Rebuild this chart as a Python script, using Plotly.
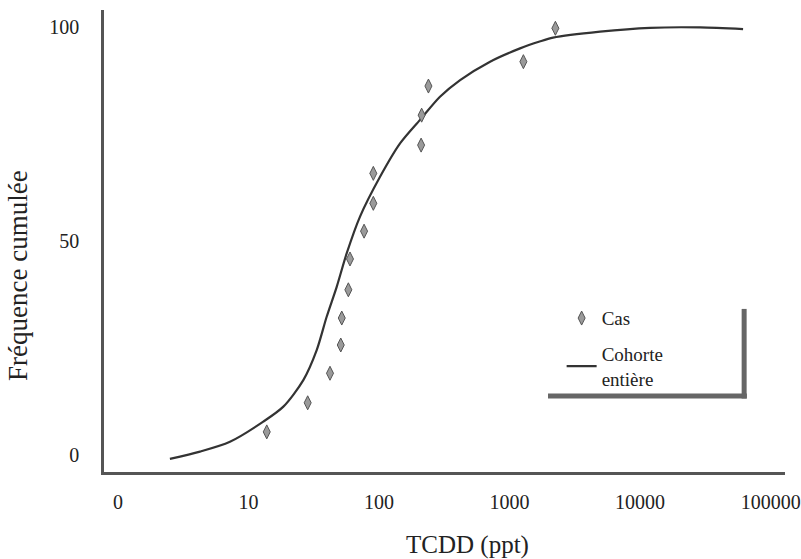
import plotly.graph_objects as go

# Cases (Cas): TCDD (ppt) and cumulative frequency (%)
cas_tcdd = [13.8, 28.4, 42.1, 50.9, 51.8, 58.2, 59.9, 76.8, 90.4, 90.4, 210, 212, 239, 1276, 2244]
cas_freq = [5.4, 12.2, 19.1, 25.7, 32.0, 38.6, 45.8, 52.3, 58.8, 65.8, 72.4, 79.4, 86.2, 91.9, 99.7]

# Whole cohort (Cohorte entière) cumulative curve
coh_tcdd = [2.5, 4.25, 7.21, 12.98, 18.49, 26.3, 33.3, 39.7, 47.4, 56.5, 71.5, 101.8, 144.9,
            206, 293, 418, 709, 1203, 1700, 2153, 4936, 11940, 28840, 61500]
coh_freq = [-0.9, 0.8, 3.1, 7.8, 11.3, 17.5, 24.5, 32.3, 39.3, 47.1, 55.7, 65.0, 72.8,
            78.3, 83.7, 87.6, 91.9, 95.0, 96.6, 97.5, 98.9, 99.8, 99.9, 99.5]

x_tickvals = [1, 10, 100, 1000, 10000, 100000]
x_ticktext = ["0", "10", "100", "1000", "10000", "100000"]
y_tickvals = [0, 50, 100]

x_title = "TCDD (ppt)"
y_title = "Fréquence cumulée"

FONT = "Liberation Serif, serif"
TXT = "#222222"

fig = go.Figure()
fig.add_trace(go.Scatter(
    x=coh_tcdd, y=coh_freq, mode="lines", name="Cohorte<br>entière",
    line=dict(color="#333333", width=2.2, shape="spline", smoothing=0.8),
    legendgroup="b", legendrank=2,
))
fig.add_trace(go.Scatter(
    x=cas_tcdd, y=cas_freq, mode="markers", name="Cas",
    marker=dict(symbol="diamond-tall", size=10, color="#9a9a9a",
                line=dict(color="#555555", width=1)),
    legendgroup="a", legendrank=1,
))

fig.update_layout(
    width=801, height=559,
    margin=dict(l=104, r=16, t=10, b=87),
    paper_bgcolor="white", plot_bgcolor="white",
    font=dict(family=FONT, color=TXT, size=20),
    legend=dict(
        x=0.672, y=0.374, xanchor="left", yanchor="top",
        traceorder="grouped", tracegroupgap=8,
        font=dict(family=FONT, size=19, color=TXT),
        bgcolor="rgba(0,0,0,0)", itemwidth=30,
    ),
    xaxis=dict(
        type="log", range=[-0.107, 5.11],
        tickvals=x_tickvals, ticktext=x_ticktext,
        ticks="outside", ticklen=10, tickcolor="rgba(0,0,0,0)",
        showgrid=False, zeroline=False,
        showline=True, linecolor="#555555", linewidth=2.5,
        tickfont=dict(family=FONT, size=20, color=TXT),
        automargin=False,
    ),
    yaxis=dict(
        range=[-3.97, 103.97],
        tickvals=y_tickvals,
        ticks="outside", ticklen=18, tickcolor="rgba(0,0,0,0)",
        showgrid=False, zeroline=False,
        showline=True, linecolor="#555555", linewidth=2.5,
        tickfont=dict(family=FONT, size=20, color=TXT),
        automargin=False,
    ),
    annotations=[
        dict(text=x_title, xref="paper", yref="paper", x=(467 - 104) / 681, y=(472 - 545) / 462,
             xanchor="center", yanchor="middle", showarrow=False,
             font=dict(family=FONT, size=25, color=TXT)),
        dict(text=y_title, xref="paper", yref="paper", x=(18 - 104) / 681, y=(472 - 276) / 462,
             xanchor="center", yanchor="middle", showarrow=False, textangle=-90,
             font=dict(family=FONT, size=27, color=TXT)),
    ],
    shapes=[
        dict(type="line", xref="paper", yref="paper", x0=0.652, x1=0.944, y0=0.1645, y1=0.1645,
             line=dict(color="#666666", width=5)),
        dict(type="line", xref="paper", yref="paper", x0=0.940, x1=0.940, y0=0.159, y1=0.353,
             line=dict(color="#666666", width=5)),
    ],
)

fig.write_html("out.html")
